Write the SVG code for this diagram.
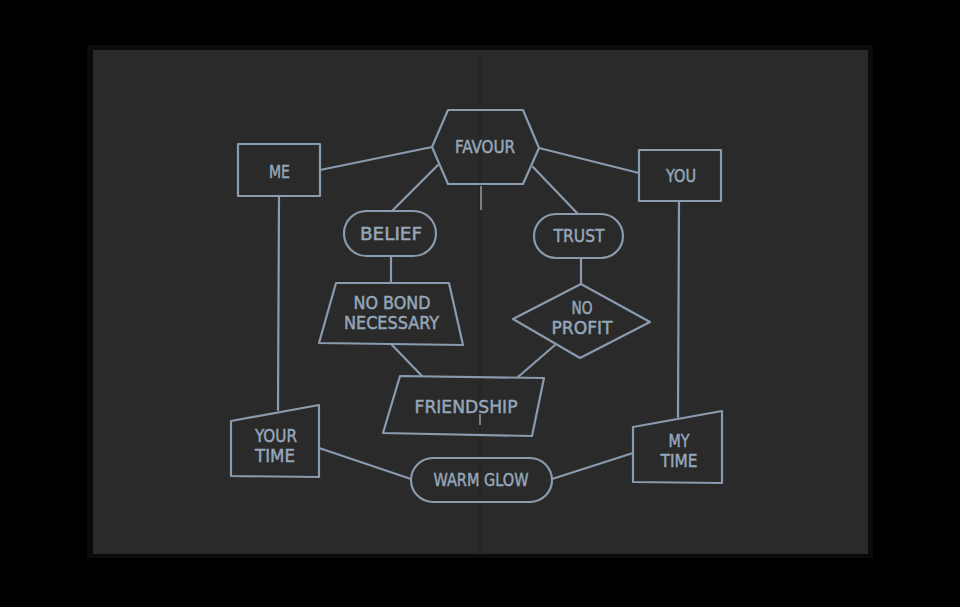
<svg xmlns="http://www.w3.org/2000/svg" width="960" height="607" viewBox="0 0 960 607">
<style>
.s{fill:none;stroke:#8a9bae;stroke-width:2.2;stroke-linejoin:round;stroke-linecap:round}
.t{font-family:"DejaVu Sans Condensed","DejaVu Sans","Liberation Sans",sans-serif;font-size:18px;fill:#95a7ba;stroke:#95a7ba;stroke-width:0.45;text-anchor:middle}
</style>
<rect x="0" y="0" width="960" height="607" fill="#000"/>
<rect x="87" y="45" width="786" height="513" fill="#0b0b0b"/>
<rect x="93" y="50" width="775" height="504" fill="#2b2a2a"/>
<line x1="480" y1="50" x2="480" y2="554" stroke="#252424" stroke-width="1.5"/>
<g id="staples" stroke="#b8bcc0" stroke-width="1.2">
<line x1="481" y1="186" x2="481" y2="210"/>
<line x1="480" y1="414" x2="480" y2="425"/>
</g>
<g id="connectors" class="s">
<line x1="320" y1="170" x2="432" y2="147"/>
<line x1="539" y1="148" x2="639" y2="173"/>
<line x1="438" y1="165" x2="392" y2="211"/>
<line x1="533" y1="167" x2="578" y2="214"/>
<line x1="391" y1="256" x2="391" y2="283"/>
<line x1="581" y1="258" x2="581" y2="284"/>
<line x1="279" y1="196" x2="278" y2="410"/>
<line x1="679" y1="201" x2="678" y2="417"/>
<line x1="392" y1="345" x2="422" y2="376"/>
<line x1="555" y1="345" x2="518" y2="377"/>
<line x1="319" y1="448" x2="411" y2="479"/>
<line x1="552" y1="479" x2="633" y2="453"/>
</g>
<g id="me"><rect class="s" x="238" y="144" width="82" height="52"/><text class="t" x="279.5" y="178" textLength="21" lengthAdjust="spacingAndGlyphs">ME</text></g>
<g id="favour"><polygon class="s" points="448,110 523,110 539,148 523,184 448,184 432,147"/><text class="t" x="485" y="153" textLength="60" lengthAdjust="spacingAndGlyphs">FAVOUR</text></g>
<g id="you"><rect class="s" x="639" y="150" width="82" height="51"/><text class="t" x="681" y="182" textLength="30" lengthAdjust="spacingAndGlyphs">YOU</text></g>
<g id="belief"><rect class="s" x="344" y="211" width="92" height="45" rx="22.5"/><text class="t" x="391" y="240" textLength="62" lengthAdjust="spacingAndGlyphs">BELIEF</text></g>
<g id="trust"><rect class="s" x="534" y="214" width="89" height="44" rx="22"/><text class="t" x="579" y="242" textLength="51" lengthAdjust="spacingAndGlyphs">TRUST</text></g>
<g id="nobond"><polygon class="s" points="336,283 449,283 463,345 319,343"/><text class="t" x="392" y="309" textLength="77" lengthAdjust="spacingAndGlyphs">NO BOND</text><text class="t" x="391.5" y="329" textLength="95" lengthAdjust="spacingAndGlyphs">NECESSARY</text></g>
<g id="noprofit"><polygon class="s" points="581,284 650,322 580,358 513,319"/><text class="t" x="582" y="314" textLength="21" lengthAdjust="spacingAndGlyphs">NO</text><text class="t" x="582" y="334" textLength="61" lengthAdjust="spacingAndGlyphs">PROFIT</text></g>
<g id="friendship"><polygon class="s" points="400,376 544,378 532,436 383,433"/><text class="t" x="466" y="413" textLength="103" lengthAdjust="spacingAndGlyphs">FRIENDSHIP</text></g>
<g id="yourtime"><polygon class="s" points="231,421 319,405 319,477 231,476"/><text class="t" x="276" y="442" textLength="42" lengthAdjust="spacingAndGlyphs">YOUR</text><text class="t" x="275" y="462" textLength="40" lengthAdjust="spacingAndGlyphs">TIME</text></g>
<g id="warmglow"><rect class="s" x="411" y="458" width="141" height="44" rx="22"/><text class="t" x="481" y="486" textLength="95" lengthAdjust="spacingAndGlyphs">WARM GLOW</text></g>
<g id="mytime"><polygon class="s" points="633,427 722,411 722,483 633,482"/><text class="t" x="679" y="447" textLength="21" lengthAdjust="spacingAndGlyphs">MY</text><text class="t" x="679" y="467" textLength="37" lengthAdjust="spacingAndGlyphs">TIME</text></g>
</svg>
